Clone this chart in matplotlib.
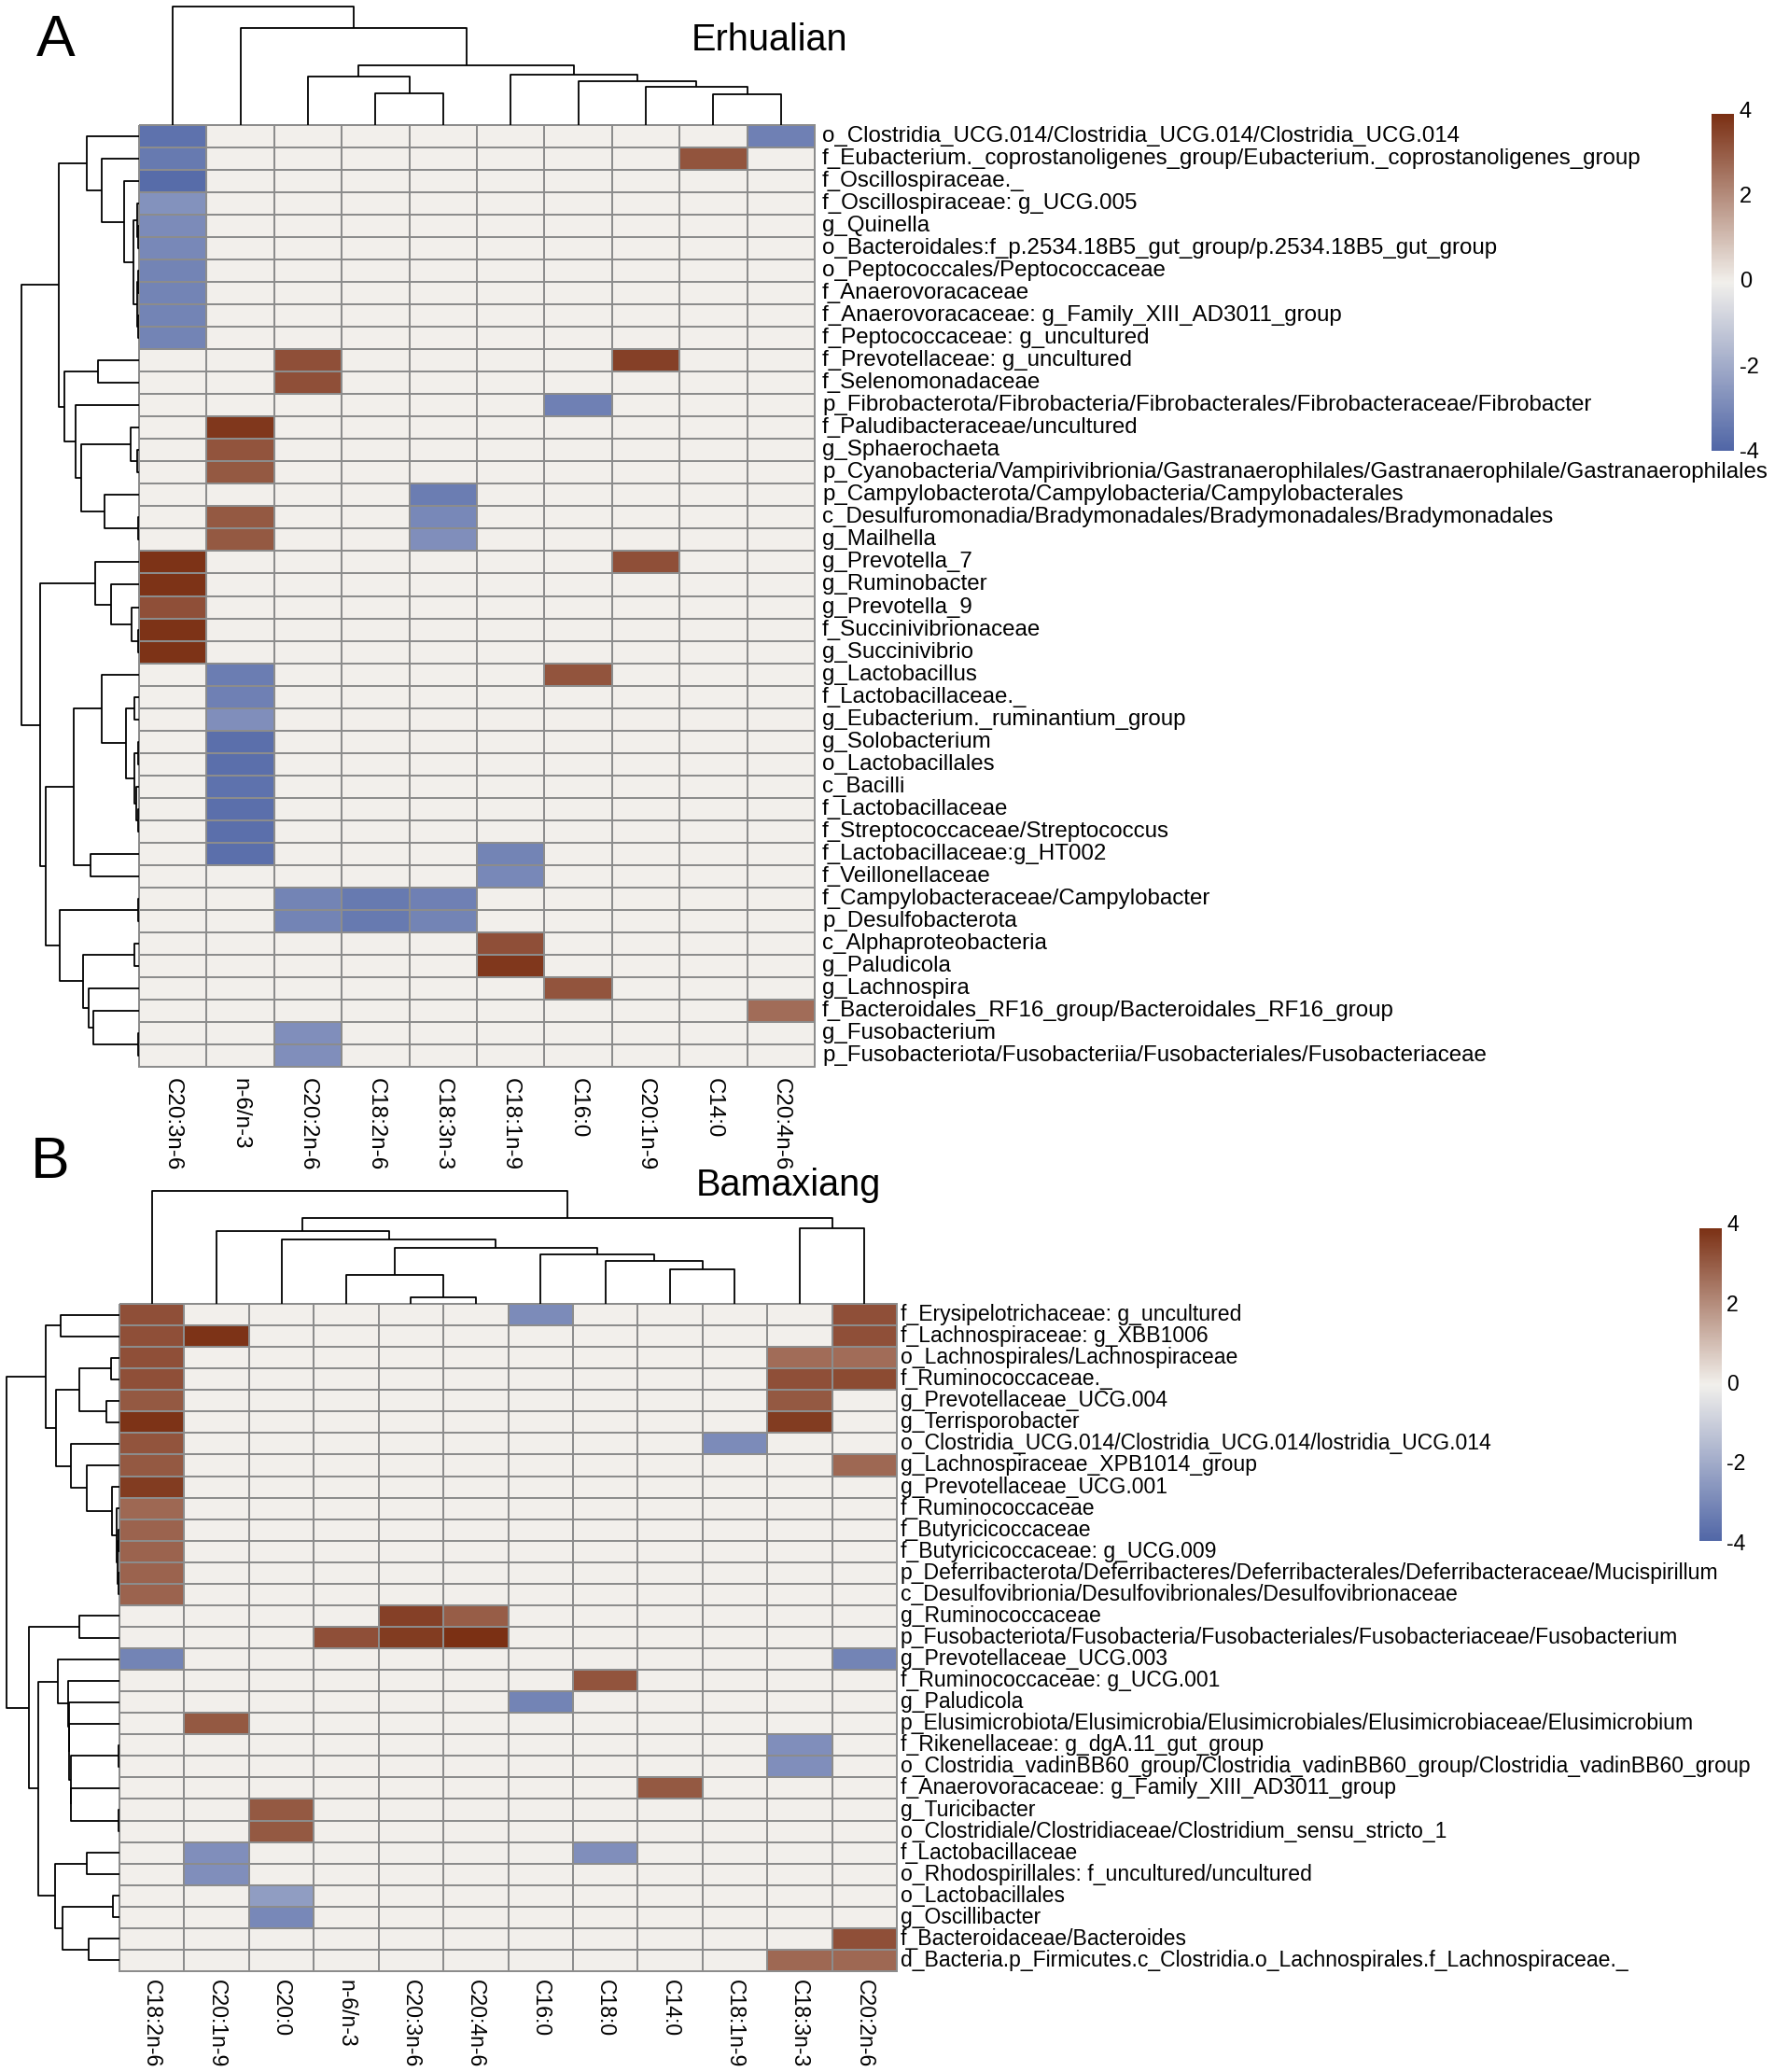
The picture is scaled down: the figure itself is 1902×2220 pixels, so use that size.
import numpy as np
import matplotlib
matplotlib.use('Agg')
import matplotlib.pyplot as plt
from matplotlib.colors import LinearSegmentedColormap
from matplotlib.transforms import blended_transform_factory

W, H = 1902, 2220
FONT = ['Liberation Sans', 'DejaVu Sans']
plt.rcParams['font.family'] = FONT

# ---------------- Panel A data ----------------
a_cols = ["C20:3n-6", "n-6/n-3", "C20:2n-6", "C18:2n-6", "C18:3n-3",
          "C18:1n-9", "C16:0", "C20:1n-9", "C14:0", "C20:4n-6"]
a_rows = [
    "o_Clostridia_UCG.014/Clostridia_UCG.014/Clostridia_UCG.014",
    "f_Eubacterium._coprostanoligenes_group/Eubacterium._coprostanoligenes_group",
    "f_Oscillospiraceae._",
    "f_Oscillospiraceae: g_UCG.005",
    "g_Quinella",
    "o_Bacteroidales:f_p.2534.18B5_gut_group/p.2534.18B5_gut_group",
    "o_Peptococcales/Peptococcaceae",
    "f_Anaerovoracaceae",
    "f_Anaerovoracaceae: g_Family_XIII_AD3011_group",
    "f_Peptococcaceae: g_uncultured",
    "f_Prevotellaceae: g_uncultured",
    "f_Selenomonadaceae",
    "p_Fibrobacterota/Fibrobacteria/Fibrobacterales/Fibrobacteraceae/Fibrobacter",
    "f_Paludibacteraceae/uncultured",
    "g_Sphaerochaeta",
    "p_Cyanobacteria/Vampirivibrionia/Gastranaerophilales/Gastranaerophilale/Gastranaerophilales",
    "p_Campylobacterota/Campylobacteria/Campylobacterales",
    "c_Desulfuromonadia/Bradymonadales/Bradymonadales/Bradymonadales",
    "g_Mailhella",
    "g_Prevotella_7",
    "g_Ruminobacter",
    "g_Prevotella_9",
    "f_Succinivibrionaceae",
    "g_Succinivibrio",
    "g_Lactobacillus",
    "f_Lactobacillaceae._",
    "g_Eubacterium._ruminantium_group",
    "g_Solobacterium",
    "o_Lactobacillales",
    "c_Bacilli",
    "f_Lactobacillaceae",
    "f_Streptococcaceae/Streptococcus",
    "f_Lactobacillaceae:g_HT002",
    "f_Veillonellaceae",
    "f_Campylobacteraceae/Campylobacter",
    "p_Desulfobacterota",
    "c_Alphaproteobacteria",
    "g_Paludicola",
    "g_Lachnospira",
    "f_Bacteroidales_RF16_group/Bacteroidales_RF16_group",
    "g_Fusobacterium",
    "p_Fusobacteriota/Fusobacteriia/Fusobacteriales/Fusobacteriaceae",
]
a_values = [
    [-3.6, 0, 0, 0, 0, 0, 0, 0, 0, -3.2],
    [-3.4, 0, 0, 0, 0, 0, 0, 0, 3.2, 0],
    [-3.8, 0, 0, 0, 0, 0, 0, 0, 0, 0],
    [-2.7, 0, 0, 0, 0, 0, 0, 0, 0, 0],
    [-2.9, 0, 0, 0, 0, 0, 0, 0, 0, 0],
    [-3.0, 0, 0, 0, 0, 0, 0, 0, 0, 0],
    [-3.1, 0, 0, 0, 0, 0, 0, 0, 0, 0],
    [-3.1, 0, 0, 0, 0, 0, 0, 0, 0, 0],
    [-3.1, 0, 0, 0, 0, 0, 0, 0, 0, 0],
    [-3.1, 0, 0, 0, 0, 0, 0, 0, 0, 0],
    [0, 0, 3.3, 0, 0, 0, 0, 3.6, 0, 0],
    [0, 0, 3.3, 0, 0, 0, 0, 0, 0, 0],
    [0, 0, 0, 0, 0, 0, -3.2, 0, 0, 0],
    [0, 3.8, 0, 0, 0, 0, 0, 0, 0, 0],
    [0, 3.2, 0, 0, 0, 0, 0, 0, 0, 0],
    [0, 3.1, 0, 0, 0, 0, 0, 0, 0, 0],
    [0, 0, 0, 0, -3.3, 0, 0, 0, 0, 0],
    [0, 3.1, 0, 0, -3.0, 0, 0, 0, 0, 0],
    [0, 3.1, 0, 0, -2.8, 0, 0, 0, 0, 0],
    [3.9, 0, 0, 0, 0, 0, 0, 3.3, 0, 0],
    [3.9, 0, 0, 0, 0, 0, 0, 0, 0, 0],
    [3.3, 0, 0, 0, 0, 0, 0, 0, 0, 0],
    [3.9, 0, 0, 0, 0, 0, 0, 0, 0, 0],
    [3.9, 0, 0, 0, 0, 0, 0, 0, 0, 0],
    [0, -3.3, 0, 0, 0, 0, 3.2, 0, 0, 0],
    [0, -3.2, 0, 0, 0, 0, 0, 0, 0, 0],
    [0, -2.8, 0, 0, 0, 0, 0, 0, 0, 0],
    [0, -3.7, 0, 0, 0, 0, 0, 0, 0, 0],
    [0, -3.7, 0, 0, 0, 0, 0, 0, 0, 0],
    [0, -3.6, 0, 0, 0, 0, 0, 0, 0, 0],
    [0, -3.7, 0, 0, 0, 0, 0, 0, 0, 0],
    [0, -3.7, 0, 0, 0, 0, 0, 0, 0, 0],
    [0, -3.7, 0, 0, 0, -3.1, 0, 0, 0, 0],
    [0, 0, 0, 0, 0, -3.0, 0, 0, 0, 0],
    [0, 0, -3.1, -3.4, -3.2, 0, 0, 0, 0, 0],
    [0, 0, -3.1, -3.4, -3.1, 0, 0, 0, 0, 0],
    [0, 0, 0, 0, 0, 3.3, 0, 0, 0, 0],
    [0, 0, 0, 0, 0, 3.8, 0, 0, 0, 0],
    [0, 0, 0, 0, 0, 0, 3.2, 0, 0, 0],
    [0, 0, 0, 0, 0, 0, 0, 0, 0, 2.7],
    [0, 0, -2.8, 0, 0, 0, 0, 0, 0, 0],
    [0, 0, -2.8, 0, 0, 0, 0, 0, 0, 0],
]
# linkage: (child a, child b, height); new node ids start at n
a_row_merges = [
    (4, 5, 3), (3, 42, 5), (6, 7, 3), (8, 9, 2), (44, 45, 6), (43, 46, 17),
    (2, 47, 47), (1, 48, 119), (0, 49, 169), (10, 11, 132), (14, 15, 6),
    (13, 52, 27), (17, 18, 4), (16, 54, 112), (53, 55, 185), (12, 56, 204),
    (51, 57, 242), (50, 58, 260), (22, 23, 2), (21, 60, 24), (20, 61, 89),
    (19, 62, 142), (25, 26, 15), (27, 28, 3), (30, 31, 2), (29, 66, 9),
    (65, 67, 14), (64, 68, 42), (24, 69, 119), (32, 33, 155), (70, 71, 212),
    (34, 35, 4), (36, 37, 15), (40, 41, 2), (39, 75, 147), (38, 76, 162),
    (74, 77, 179), (73, 78, 257), (72, 79, 300), (63, 80, 319), (59, 81, 379),
]
a_col_merges = [
    (8, 9, 87), (7, 10, 107), (6, 11, 122), (5, 12, 142), (3, 4, 88),
    (2, 14, 137), (15, 13, 167), (1, 16, 272), (0, 17, 332),
]

# ---------------- Panel B data ----------------
b_cols = ["C18:2n-6", "C20:1n-9", "C20:0", "n-6/n-3", "C20:3n-6", "C20:4n-6",
          "C16:0", "C18:0", "C14:0", "C18:1n-9", "C18:3n-3", "C20:2n-6"]
b_rows = [
    "f_Erysipelotrichaceae: g_uncultured",
    "f_Lachnospiraceae: g_XBB1006",
    "o_Lachnospirales/Lachnospiraceae",
    "f_Ruminococcaceae._",
    "g_Prevotellaceae_UCG.004",
    "g_Terrisporobacter",
    "o_Clostridia_UCG.014/Clostridia_UCG.014/lostridia_UCG.014",
    "g_Lachnospiraceae_XPB1014_group",
    "g_Prevotellaceae_UCG.001",
    "f_Ruminococcaceae",
    "f_Butyricicoccaceae",
    "f_Butyricicoccaceae: g_UCG.009",
    "p_Deferribacterota/Deferribacteres/Deferribacterales/Deferribacteraceae/Mucispirillum",
    "c_Desulfovibrionia/Desulfovibrionales/Desulfovibrionaceae",
    "g_Ruminococcaceae",
    "p_Fusobacteriota/Fusobacteria/Fusobacteriales/Fusobacteriaceae/Fusobacterium",
    "g_Prevotellaceae_UCG.003",
    "f_Ruminococcaceae: g_UCG.001",
    "g_Paludicola",
    "p_Elusimicrobiota/Elusimicrobia/Elusimicrobiales/Elusimicrobiaceae/Elusimicrobium",
    "f_Rikenellaceae: g_dgA.11_gut_group",
    "o_Clostridia_vadinBB60_group/Clostridia_vadinBB60_group/Clostridia_vadinBB60_group",
    "f_Anaerovoracaceae: g_Family_XIII_AD3011_group",
    "g_Turicibacter",
    "o_Clostridiale/Clostridiaceae/Clostridium_sensu_stricto_1",
    "f_Lactobacillaceae",
    "o_Rhodospirillales: f_uncultured/uncultured",
    "o_Lactobacillales",
    "g_Oscillibacter",
    "f_Bacteroidaceae/Bacteroides",
    "d_Bacteria.p_Firmicutes.c_Clostridia.o_Lachnospirales.f_Lachnospiraceae._",
]
b_values = [
    [3.3, 0, 0, 0, 0, 0, -2.9, 0, 0, 0, 0, 3.3],
    [3.3, 3.9, 0, 0, 0, 0, 0, 0, 0, 0, 0, 3.3],
    [3.3, 0, 0, 0, 0, 0, 0, 0, 0, 0, 2.7, 2.7],
    [3.3, 0, 0, 0, 0, 0, 0, 0, 0, 0, 3.3, 3.4],
    [3.1, 0, 0, 0, 0, 0, 0, 0, 0, 0, 3.1, 0],
    [3.9, 0, 0, 0, 0, 0, 0, 0, 0, 0, 3.7, 0],
    [3.2, 0, 0, 0, 0, 0, 0, 0, 0, -2.9, 0, 0],
    [3.1, 0, 0, 0, 0, 0, 0, 0, 0, 0, 0, 2.8],
    [3.7, 0, 0, 0, 0, 0, 0, 0, 0, 0, 0, 0],
    [2.8, 0, 0, 0, 0, 0, 0, 0, 0, 0, 0, 0],
    [2.9, 0, 0, 0, 0, 0, 0, 0, 0, 0, 0, 0],
    [2.9, 0, 0, 0, 0, 0, 0, 0, 0, 0, 0, 0],
    [2.9, 0, 0, 0, 0, 0, 0, 0, 0, 0, 0, 0],
    [2.9, 0, 0, 0, 0, 0, 0, 0, 0, 0, 0, 0],
    [0, 0, 0, 0, 3.6, 3.0, 0, 0, 0, 0, 0, 0],
    [0, 0, 0, 3.3, 3.7, 3.95, 0, 0, 0, 0, 0, 0],
    [-3.1, 0, 0, 0, 0, 0, 0, 0, 0, 0, 0, -3.1],
    [0, 0, 0, 0, 0, 0, 0, 3.2, 0, 0, 0, 0],
    [0, 0, 0, 0, 0, 0, -3.1, 0, 0, 0, 0, 0],
    [0, 3.1, 0, 0, 0, 0, 0, 0, 0, 0, 0, 0],
    [0, 0, 0, 0, 0, 0, 0, 0, 0, 0, -2.8, 0],
    [0, 0, 0, 0, 0, 0, 0, 0, 0, 0, -2.8, 0],
    [0, 0, 0, 0, 0, 0, 0, 0, 3.1, 0, 0, 0],
    [0, 0, 3.1, 0, 0, 0, 0, 0, 0, 0, 0, 0],
    [0, 0, 3.1, 0, 0, 0, 0, 0, 0, 0, 0, 0],
    [0, -2.8, 0, 0, 0, 0, 0, -2.8, 0, 0, 0, 0],
    [0, -2.8, 0, 0, 0, 0, 0, 0, 0, 0, 0, 0],
    [0, 0, -2.4, 0, 0, 0, 0, 0, 0, 0, 0, 0],
    [0, 0, -3.0, 0, 0, 0, 0, 0, 0, 0, 0, 0],
    [0, 0, 0, 0, 0, 0, 0, 0, 0, 0, 0, 3.3],
    [0, 0, 0, 0, 0, 0, 0, 0, 0, 0, 2.8, 2.8],
]
b_row_merges = [
    (0, 1, 190), (2, 3, 28), (4, 5, 41), (32, 33, 128), (10, 11, 3),
    (12, 13, 3), (35, 36, 6), (9, 37, 9), (8, 38, 25), (7, 39, 106),
    (6, 40, 155), (34, 41, 205), (31, 42, 236), (14, 15, 130), (20, 21, 2),
    (23, 24, 2), (22, 46, 155), (45, 47, 156), (19, 48, 161), (18, 49, 163),
    (17, 50, 165), (16, 51, 198), (25, 26, 106), (27, 28, 21), (29, 30, 100),
    (54, 55, 183), (53, 56, 208), (52, 57, 260), (44, 58, 291), (43, 59, 363),
]
b_col_merges = [
    (4, 5, 20), (3, 12, 93), (8, 9, 111), (7, 14, 138), (6, 15, 159),
    (13, 16, 179), (2, 17, 208), (1, 18, 234), (10, 11, 244), (19, 20, 276),
    (0, 21, 363),
]

legend_ticks = [4, 2, 0, -2, -4]

# ---------------- styling ----------------
cmap = LinearSegmentedColormap.from_list(
    "bwbr", [(0.0, "#4f65a6"), (0.5, "#f2f0ec"), (1.0, "#7a2e12")])
VMIN, VMAX = -4, 4
GRID = "#8c8c8c"


def px_axes(fig, x0, y0, x1, y1):
    return fig.add_axes([x0 / W, 1 - y1 / H, (x1 - x0) / W, (y1 - y0) / H])


def dendro_segments(merges, n):
    pos = {i: i + 0.5 for i in range(n)}
    hgt = {i: 0.0 for i in range(n)}
    segs = []
    for k, (a, b, h) in enumerate(merges):
        node = n + k
        segs.append(([pos[a], pos[a], pos[b], pos[b]], [hgt[a], h, h, hgt[b]]))
        pos[node] = (pos[a] + pos[b]) / 2
        hgt[node] = h
    return segs, max(m[2] for m in merges)


def draw_panel(fig, rows, cols, values, row_merges, col_merges, box, title,
               title_xy, letter, letter_xy, cbar_box, cbar_range, fs, tick_fs,
               label_gap, col_gap):
    x0, y0, x1, y1, tree_w, tree_h = box
    nr, nc = len(rows), len(cols)
    data = np.array(values, dtype=float)
    cw = (x1 - x0) / nc
    rh = (y1 - y0) / nr

    # heatmap
    ax = px_axes(fig, x0, y0, x1, y1)
    mesh = ax.pcolormesh(np.arange(nc + 1), np.arange(nr + 1), data, cmap=cmap,
                         vmin=VMIN, vmax=VMAX, edgecolors=GRID, linewidth=1.3)
    mesh.set_clip_on(False)
    ax.set_xlim(0, nc)
    ax.set_ylim(nr, 0)
    ax.set_axis_off()
    for i, lab in enumerate(rows):
        ax.text(nc + label_gap / cw, i + 0.5, lab, ha="left", va="center",
                fontsize=fs)
    for j, lab in enumerate(cols):
        ax.text(j + 0.5, nr + col_gap / rh, lab, rotation=-90,
                ha="center", va="top", fontsize=fs)

    # row dendrogram
    axr = px_axes(fig, x0 - tree_w, y0, x0, y1)
    segs, hmax = dendro_segments(row_merges, nr)
    for xs, hs in segs:
        axr.plot(hs, xs, color="black", lw=1.3, solid_capstyle="butt",
                 clip_on=False)
    axr.set_xlim(hmax, 0)
    axr.set_ylim(nr, 0)
    axr.set_axis_off()

    # column dendrogram
    axc = px_axes(fig, x0, y0 - tree_h, x1, y0)
    segs, hmax = dendro_segments(col_merges, nc)
    for xs, hs in segs:
        axc.plot(xs, hs, color="black", lw=1.3, solid_capstyle="butt",
                 clip_on=False)
    axc.set_xlim(0, nc)
    axc.set_ylim(0, hmax)
    axc.set_axis_off()

    # titles
    fig.text(title_xy[0] / W, 1 - title_xy[1] / H, title, fontsize=28.5,
             ha="center", va="center")
    fig.text(letter_xy[0] / W, 1 - letter_xy[1] / H, letter, fontsize=45,
             ha="center", va="center")

    # colour legend
    cx0, cy0, cx1, cy1 = cbar_box
    axb = px_axes(fig, cx0, cy0, cx1, cy1)
    lo, hi = cbar_range
    grad = np.linspace(hi, lo, 300)[:, None]
    axb.imshow(grad, aspect="auto", cmap=cmap, vmin=VMIN, vmax=VMAX,
               extent=[0, 1, lo, hi], interpolation="bilinear")
    axb.set_xlim(0, 1)
    axb.set_ylim(lo, hi)
    axb.set_axis_off()
    tr = blended_transform_factory(axb.transAxes, axb.transData)
    for v in legend_ticks:
        axb.text(1 + 6.0 / (cx1 - cx0), v, str(v), transform=tr, ha="left",
                 va="center", fontsize=tick_fs, clip_on=False)


fig = plt.figure(figsize=(W / 100, H / 100), dpi=100)
fig.patch.set_facecolor("white")

draw_panel(fig, a_rows, a_cols, a_values, a_row_merges, a_col_merges,
           (149, 134, 873, 1143, 126, 127), "Erhualian", (825, 43),
           "A", (60, 43), (1834, 122, 1858, 483), (-3.95, 3.95),
           17.4, 17.0, 8.0, 12.0)

draw_panel(fig, b_rows, b_cols, b_values, b_row_merges, b_col_merges,
           (128, 1397, 961, 2112, 121, 121), "Bamaxiang", (845, 1270),
           "B", (54, 1246), (1821, 1316, 1844, 1651), (-3.92, 3.92),
           16.6, 16.6, 4.0, 9.0)

fig.savefig("out.png", dpi=100, facecolor="white")
